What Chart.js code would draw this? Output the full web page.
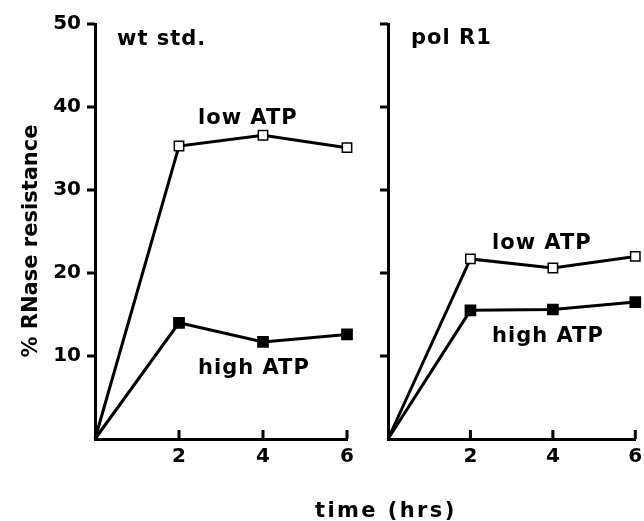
<!DOCTYPE html>
<html>
<head>
<meta charset="utf-8">
<script src="https://cdn.jsdelivr.net/npm/chart.js@4.4.1/dist/chart.umd.min.js"></script>
<style>
  body { margin: 0; background: #fff; }
  #wrap { position: relative; width: 644px; height: 521px; }
  canvas { position: absolute; left: 0; top: 0; }
</style>
</head>
<body>
<div id="wrap">
  <canvas id="wt-chart" width="644" height="521"></canvas>
  <canvas id="pol-chart" width="644" height="521"></canvas>
</div>
<script>
// time points (hrs)
const hours = [0, 2, 4, 6];

// % RNase resistance, wt std.
const wtLowATP = [0, 35.3, 36.6, 35.1];
const wtHighATP = [0, 14.0, 11.7, 12.6];

// % RNase resistance, pol R1
const polLowATP = [0, 21.7, 20.6, 22.0];
const polHighATP = [0, 15.5, 15.6, 16.5];

const yTicks = [10, 20, 30, 40, 50];
const xTicks = [2, 4, 6];

const FONT = 'DejaVu Sans';

// free text drawn on top of the chart (in canvas pixels)
const textLabels = {
    id: 'textLabels',
    afterDraw(chart, args, opts) {
        const ctx = chart.ctx;
        (opts.items || []).forEach(item => {
            ctx.save();
            ctx.fillStyle = '#000';
            ctx.font = 'bold ' + (item.size || 21) + 'px "' + FONT + '"';
            ctx.letterSpacing = (item.spacing || 0) + 'px';
            ctx.textBaseline = 'alphabetic';
            ctx.textAlign = item.align || 'left';
            ctx.translate(item.x, item.y);
            if (item.rotate) ctx.rotate(item.rotate);
            ctx.fillText(item.text, 0, 0);
            ctx.restore();
        });
    }
};

// tick marks: outward on the y axis, inward (up) on the x axis
const axisTicks = {
    id: 'axisTicks',
    afterDraw(chart) {
        const ctx = chart.ctx;
        const area = chart.chartArea;
        const xs = chart.scales.x, ys = chart.scales.y;
        ctx.save();
        ctx.strokeStyle = '#000';
        ctx.lineWidth = 3;
        ctx.beginPath();
        yTicks.forEach(v => {
            const py = ys.getPixelForValue(v);
            ctx.moveTo(area.left - 8, py);
            ctx.lineTo(area.left, py);
        });
        xTicks.forEach(v => {
            const px = xs.getPixelForValue(v);
            ctx.moveTo(px, area.bottom);
            ctx.lineTo(px, area.bottom - 9);
        });
        ctx.stroke();
        ctx.restore();
    }
};

function series(values, filled) {
    return {
        data: hours.map((h, i) => ({ x: h, y: values[i] })),
        borderColor: '#000',
        borderWidth: 3,
        tension: 0,
        clip: false,
        pointStyle: 'rect',
        pointRadius: ctx => ctx.dataIndex === 0 ? 0 : (filled ? 7.2 : 6.6),
        pointBorderWidth: 1.5,
        pointBorderColor: '#000',
        pointBackgroundColor: filled ? '#000' : '#fff'
    };
}

function makeChart(id, low, high, yWidth, padRight, showYLabels, labels) {
    return new Chart(document.getElementById(id), {
        type: 'line',
        data: {
            datasets: [series(low, false), series(high, true)]
        },
        options: {
            responsive: false,
            animation: false,
            devicePixelRatio: 1,
            layout: { padding: { top: 24, left: 0, right: padRight, bottom: 22 } },
            plugins: {
                legend: { display: false },
                tooltip: { enabled: false },
                textLabels: { items: labels }
            },
            scales: {
                x: {
                    type: 'linear',
                    min: 0,
                    max: 6,
                    ticks: {
                        stepSize: 2,
                        color: '#000',
                        padding: 6,
                        font: { family: FONT, weight: 'bold', size: 20 },
                        callback: v => xTicks.includes(v) ? String(v) : ''
                    },
                    grid: { display: false, drawTicks: false },
                    border: { display: true, width: 3, color: '#000' },
                    afterFit: s => {
                        s.height = 60;
                        s.paddingLeft = 0;
                        s.paddingRight = 0;
                    }
                },
                y: {
                    min: 0,
                    max: 50,
                    ticks: {
                        display: showYLabels,
                        stepSize: 10,
                        color: '#000',
                        padding: 14,
                        font: { family: FONT, weight: 'bold', size: 20 },
                        callback: v => yTicks.includes(v) ? String(v) : ''
                    },
                    grid: { display: false, drawTicks: false },
                    border: { display: true, width: 3, color: '#000' },
                    afterFit: s => {
                        s.width = yWidth;
                        s.paddingTop = 0;
                        s.paddingBottom = 0;
                    }
                }
            }
        },
        plugins: [axisTicks, textLabels]
    });
}

let wtChart = makeChart('wt-chart', wtLowATP, wtHighATP, 95, 297, true, [
    { text: '% RNase resistance', x: 37, y: 241, align: 'center', rotate: -Math.PI / 2, size: 21 },
    { text: 'wt std.', x: 117, y: 45, spacing: 1 },
    { text: 'low ATP', x: 198, y: 124, spacing: 1 },
    { text: 'high ATP', x: 198, y: 374, spacing: 1 },
    { text: 'time (hrs)', x: 315, y: 517, spacing: 2.4 }
]);

let polChart = makeChart('pol-chart', polLowATP, polHighATP, 388, 8, false, [
    { text: 'pol R1', x: 411, y: 44, spacing: 1 },
    { text: 'low ATP', x: 492, y: 249, spacing: 1 },
    { text: 'high ATP', x: 492, y: 342, spacing: 1 }
]);
</script>
</body>
</html>
